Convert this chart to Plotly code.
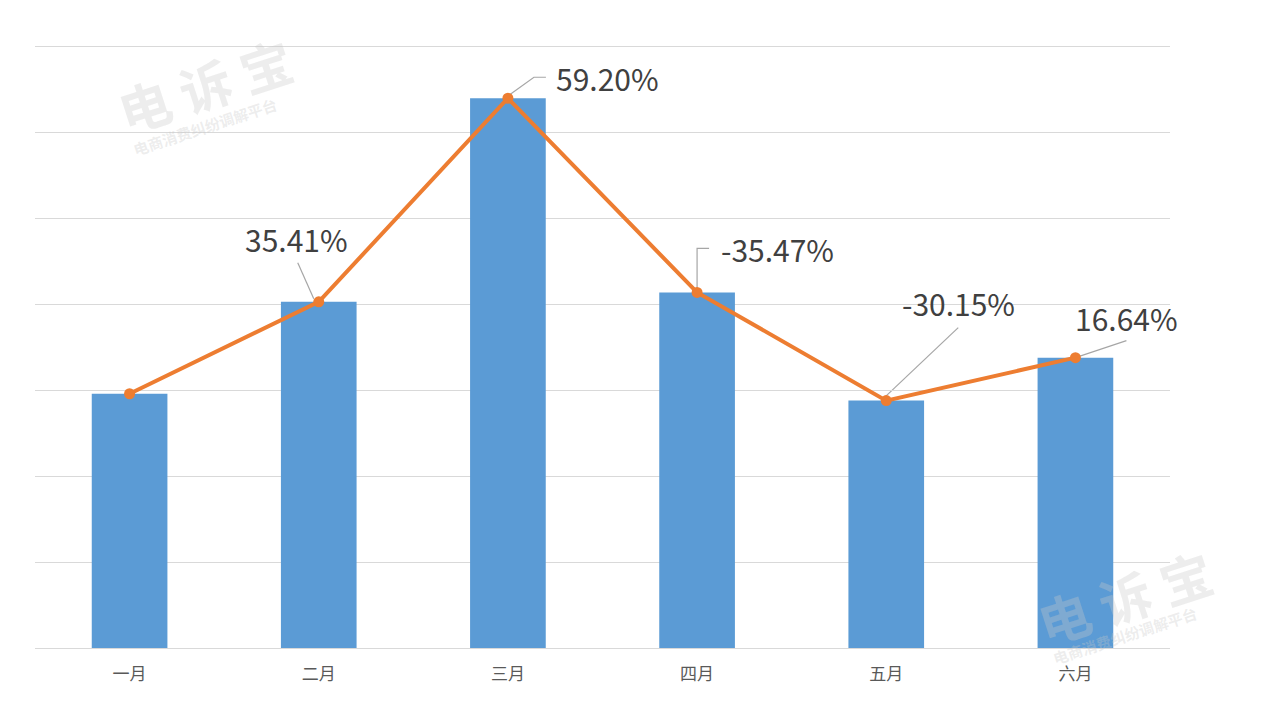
import plotly.graph_objects as go

months = ["一月", "二月", "三月", "四月", "五月", "六月"]
volumes = [2.96, 4.03, 6.40, 4.14, 2.88, 3.38]
growth_labels = ["", "35.41%", "59.20%", "-35.47%", "-30.15%", "16.64%"]

BAR = "#5B9BD5"
LINE = "#ED7D31"
GRID = "#D9D9D9"
LEAD = "#A6A6A6"
TXT = "#404040"
FONT = "Noto Sans CJK SC, Noto Sans, sans-serif"

fig = go.Figure()
fig.add_trace(go.Bar(x=months, y=volumes, marker=dict(color=BAR, line=dict(width=0)),
                     width=0.40, showlegend=False, hoverinfo="skip"))
fig.add_trace(go.Scatter(x=months, y=volumes, mode="lines+markers",
                         line=dict(color=LINE, width=4),
                         marker=dict(color=LINE, size=11), showlegend=False))

# label placement (pixel offsets from the data point): text shift, anchor, leader path
placements = {
    1: dict(xs=-22, ys=63, xa="center", path="M -5 3 L -21 39"),
    2: dict(xs=46, ys=20, xa="left", path="M 1 3 L 26 21 L 38 21"),
    3: dict(xs=22, ys=43, xa="left", path="M 0 0 L 0 44 L 12 44"),
    4: dict(xs=72, ys=98, xa="center", path="M -3 2 L 72 73"),
    5: dict(xs=51, ys=40, xa="center", path="M 0 0 L 51 17"),
}
for i, p in placements.items():
    fig.add_annotation(x=months[i], y=volumes[i], text=growth_labels[i], showarrow=False,
                       xshift=p["xs"], yshift=p["ys"], xanchor=p["xa"], yanchor="middle",
                       font=dict(size=30, color=TXT, family=FONT))
    fig.add_shape(type="path", xref="x", yref="y", xsizemode="pixel", ysizemode="pixel",
                  xanchor=months[i], yanchor=volumes[i], path=p["path"],
                  line=dict(color=LEAD, width=1.2), layer="below")

# watermarks
wm = "rgba(200,200,200,0.33)"
for (x, y, xs, ys) in [(0.15, 0.935, 0.0, -0.07), (0.96, 0.085, 0.0, -0.065)]:
    fig.add_annotation(xref="paper", yref="paper", x=x, y=y, xanchor="center", yanchor="middle",
                       text="<b>电 诉 宝</b>", showarrow=False, textangle=-18,
                       font=dict(size=52, color=wm, family=FONT))
    fig.add_annotation(xref="paper", yref="paper", x=x + xs, y=y + ys, xanchor="center",
                       yanchor="middle", text="<b>电商消费纠纷调解平台</b>", showarrow=False,
                       textangle=-18, font=dict(size=15, color=wm, family=FONT))

fig.update_layout(
    width=1264, height=702,
    margin=dict(l=35, r=94, t=45, b=54),
    paper_bgcolor="white", plot_bgcolor="white",
    bargap=0.6,
    xaxis=dict(range=[-0.5, 5.5], showgrid=False, showline=False, ticks="", ticklabelstandoff=14,
               tickfont=dict(size=17, color="#595959", family=FONT)),
    yaxis=dict(range=[0, 7.02], tickvals=[0, 1, 2, 3, 4, 5, 6, 7], showgrid=True,
               gridcolor=GRID, gridwidth=1,
               zeroline=True, zerolinecolor=GRID, zerolinewidth=1,
               showticklabels=False, ticks=""),
)

fig.write_html("out.html")
